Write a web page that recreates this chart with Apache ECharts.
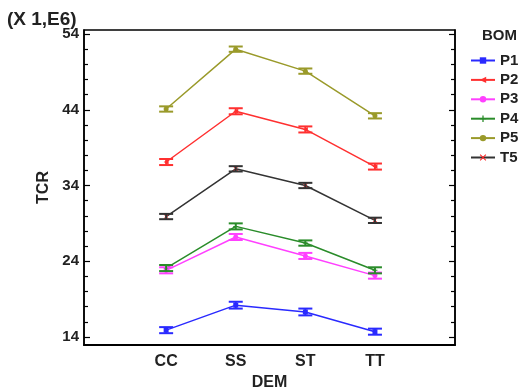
<!DOCTYPE html>
<html><head><meta charset="utf-8">
<script src="https://cdn.jsdelivr.net/npm/echarts@6/dist/echarts.min.js"></script>
<style>html,body{margin:0;padding:0;background:#fff}#c{width:521px;height:390px}</style>
</head><body><div id="c"></div>
<script>
const categories = ['CC', 'SS', 'ST', 'TT'];
const seriesNames = ['P1', 'P2', 'P3', 'P4', 'P5', 'T5'];
const P1 = [14.9, 18.2, 17.3, 14.7];
const P2 = [37.1, 43.8, 41.4, 36.5];
const P3 = [22.8, 27.2, 24.7, 22.1];
const P4 = [23.1, 28.6, 26.4, 22.8];
const P5 = [44.1, 52.0, 49.1, 43.2];
const T5 = [29.9, 36.2, 34.0, 29.4];
const errP1 = [0.4, 0.45, 0.45, 0.4];
const errP2 = [0.4, 0.4, 0.4, 0.4];
const errP3 = [0.4, 0.4, 0.4, 0.4];
const errP4 = [0.4, 0.4, 0.35, 0.4];
const errP5 = [0.35, 0.35, 0.35, 0.35];
const errT5 = [0.35, 0.35, 0.35, 0.35];
const yMajorTicks = [14, 24, 34, 44, 54];
const yMinorTicks = [16,18,20,22,26,28,30,32,36,38,40,42,46,48,50,52];
const yUnitLabel = '(X 1,E6)';
const xTitle = 'DEM', yTitle = 'TCR', legendTitle = 'BOM';

const values = [P1, P2, P3, P4, P5, T5];
const errors = [errP1, errP2, errP3, errP4, errP5, errT5];
const lineColors = ['#2a2aff', '#ff3030', '#ff40ff', '#2a8c2a', '#9a9a2a', '#333333'];
const markColors = ['#2a2aff', '#ff3030', '#ff40ff', '#2a8c2a', '#9a9a2a', '#ff2020'];
const symbols = ['rect', 'triangle', 'circle', 'path://M4,0H6V4H10V6H6V10H4V6H0V4H4Z', 'circle', 'path://M1,0L5,4L9,0L10,1L6,5L10,9L9,10L5,6L1,10L0,9L4,5L0,1Z'];
const symRot = [0, 90, 0, 0, 0, 0];

const FONT = 'Liberation Sans, Arial, sans-serif';
const YMIN = 12.94, YMAX = 54.53;
const chart = echarts.init(document.getElementById('c'), null, {renderer: 'canvas'});

const series = [];
seriesNames.forEach((n, i) => {
  series.push({
    name: n, type: 'line', xAxisIndex: 0, yAxisIndex: 0,
    data: values[i].map((v, k) => [k + 1, v]),
    symbol: symbols[i], symbolRotate: symRot[i], symbolSize: 5,
    lineStyle: {color: lineColors[i], width: 1.5},
    itemStyle: {color: markColors[i]},
    z: 2
  });
  series.push({
    name: n, type: 'custom', xAxisIndex: 0, yAxisIndex: 0,
    data: values[i].map((v, k) => [k + 1, v - errors[i][k], v + errors[i][k]]),
    renderItem: function (params, api) {
      const x = api.value(0);
      const lo = api.coord([x, api.value(1)]);
      const hi = api.coord([x, api.value(2)]);
      const hw = 7;
      const st = {stroke: lineColors[i], lineWidth: 2, fill: null};
      return {type: 'group', children: [
        {type: 'line', shape: {x1: lo[0], y1: lo[1], x2: hi[0], y2: hi[1]}, style: st},
        {type: 'line', shape: {x1: lo[0] - hw, y1: lo[1], x2: lo[0] + hw, y2: lo[1]}, style: st},
        {type: 'line', shape: {x1: hi[0] - hw, y1: hi[1], x2: hi[0] + hw, y2: hi[1]}, style: st}
      ]};
    },
    z: 3, silent: true
  });
});

const yBase = {type: 'value', min: YMIN, max: YMAX, splitLine: {show: false}, offset: 0};
const tickStyle = {color: '#000', width: 1.2};
chart.setOption({
  animation: false,
  backgroundColor: '#fff',
  grid: {left: 84, top: 30, width: 371, height: 315, outerBoundsMode: 'none', containLabel: false,
    show: true, borderColor: '#000', borderWidth: 1.5, backgroundColor: 'transparent'},
  title: [
    {text: yUnitLabel, left: 2, top: 5, textStyle: {fontFamily: FONT, fontSize: 19, fontWeight: 'bold', color: '#222'}},
    {text: legendTitle, left: 477, top: 23, textStyle: {fontFamily: FONT, fontSize: 15, fontWeight: 'bold', color: '#222'}}
  ],
  legend: {
    orient: 'vertical', left: 465, top: 48, itemWidth: 24, itemHeight: 8, itemGap: 4.4,
    data: seriesNames,
    textStyle: {fontFamily: FONT, fontSize: 15, fontWeight: 'bold', color: '#222'}
  },
  xAxis: [{
    type: 'value', min: -0.18, max: 5.15,
    name: xTitle, nameLocation: 'middle', nameGap: 30,
    nameTextStyle: {fontFamily: FONT, fontSize: 16, fontWeight: 'bold', color: '#222'},
    axisLine: {show: true, onZero: false, lineStyle: {color: '#000', width: 2}},
    axisTick: {show: false},
    splitLine: {show: false},
    axisLabel: {customValues: [1, 2, 3, 4], formatter: v => categories[Math.round(v) - 1] || '', margin: 9,
      fontFamily: FONT, fontSize: 16, fontWeight: 'bold', color: '#222'}
  }],
  yAxis: [
    Object.assign({}, yBase, {
      position: 'left', name: yTitle, nameLocation: 'middle', nameGap: 26, nameRotate: 90,
      nameTextStyle: {fontFamily: FONT, fontSize: 16, fontWeight: 'bold', color: '#222'},
      axisLine: {show: true, onZero: false, lineStyle: {color: '#000', width: 1.5}},
      axisTick: {show: true, inside: true, length: 6, customValues: yMajorTicks, lineStyle: tickStyle},
      axisLabel: {customValues: yMajorTicks, margin: 5, fontFamily: FONT, fontSize: 15, fontWeight: 'bold', color: '#222'}
    }),
    Object.assign({}, yBase, {
      position: 'left', axisLine: {show: false, onZero: false},
      axisTick: {show: true, inside: true, length: 4, customValues: yMinorTicks, lineStyle: tickStyle},
      axisLabel: {show: false}
    }),
    Object.assign({}, yBase, {
      position: 'right', axisLine: {show: true, onZero: false, lineStyle: {color: '#000', width: 1.5}},
      axisTick: {show: true, inside: true, length: 6, customValues: yMajorTicks, lineStyle: tickStyle},
      axisLabel: {show: false}
    }),
    Object.assign({}, yBase, {
      position: 'right', axisLine: {show: false, onZero: false},
      axisTick: {show: true, inside: true, length: 4, customValues: yMinorTicks, lineStyle: tickStyle},
      axisLabel: {show: false}
    })
  ],
  series: series
});
</script></body></html>
